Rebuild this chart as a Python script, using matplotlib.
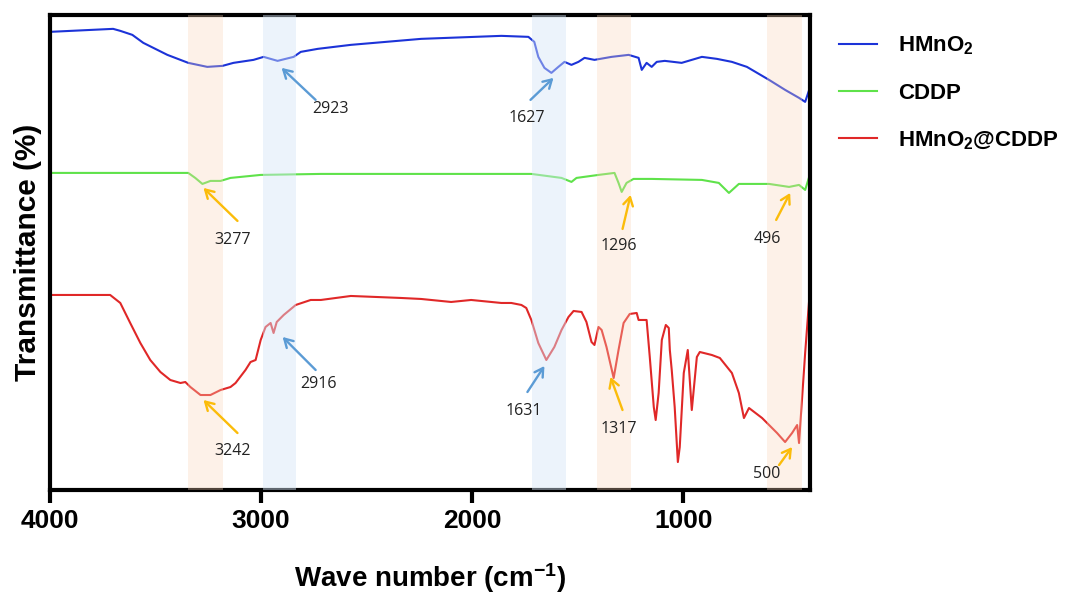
import matplotlib
matplotlib.use('Agg')
import matplotlib.pyplot as plt
import numpy as np

plt.rcParams['font.family'] = ['Liberation Sans', 'DejaVu Sans']
plt.rcParams['mathtext.fontset'] = 'custom'
plt.rcParams['mathtext.bf'] = 'Liberation Sans:bold'
plt.rcParams['mathtext.rm'] = 'Liberation Sans:bold'
plt.rcParams['mathtext.default'] = 'bf'

#------------------------------- data ---------------------------------------#
# wavenumber (cm-1) and transmittance (arbitrary, offset)
hmno2_wn = [4000, 3701, 3667, 3610, 3558, 3444, 3345, 3255, 3183, 3131, 3036,
            2988, 2955, 2922, 2846, 2812, 2732, 2575, 2242, 1862, 1734, 1706,
            1687, 1658, 1625, 1592, 1563, 1530, 1497, 1468, 1421, 1340, 1259,
            1212, 1197, 1174, 1150, 1126, 1088, 1008, 912, 841, 770, 699, 594,
            518, 452, 423, 404, 400]
hmno2_t = [458, 461, 459, 455, 447, 435, 427, 423, 424, 427, 430,
           433, 431, 429, 433, 438, 441, 445, 451, 454, 453, 448,
           433, 422, 417, 423, 428, 425, 428, 432, 430, 433, 435,
           432, 420, 427, 423, 428, 429, 427, 433, 431, 428, 423, 410,
           400, 392, 388, 400, 415]

cddp_wn = [4000, 3345, 3312, 3278, 3240, 3192, 3145, 3002, 2717, 2337, 1862,
           1720, 1577, 1530, 1506, 1402, 1326, 1307, 1292, 1269, 1236, 1150,
           912, 832, 784, 737, 594, 499, 452, 423, 404, 400]
cddp_t = [317, 317, 312, 306, 309, 309, 312, 315, 316, 316, 316,
          316, 312, 308, 312, 315, 317, 307, 298, 307, 311, 311,
          310, 307, 297, 306, 306, 303, 305, 300, 313, 317]

mix_wn = [4000, 3715, 3667, 3620, 3572, 3525, 3477, 3430, 3382, 3359, 3335,
          3287, 3240, 3192, 3145, 3121, 3074, 3050, 3026, 3002, 2979, 2955,
          2941, 2926, 2893, 2836, 2765, 2717, 2575, 2337, 2242, 2100, 2005,
          1862, 1815, 1767, 1744, 1720, 1687, 1649, 1611, 1577, 1544, 1520,
          1482, 1459, 1435, 1421, 1402, 1387, 1364, 1330, 1307, 1283, 1254,
          1221, 1212, 1174, 1159, 1140, 1131, 1117, 1102, 1083, 1069, 1064,
          1055, 1041, 1026, 1017, 998, 979, 960, 936, 922, 865, 827, 770,
          737, 713, 689, 627, 556, 518, 485, 461, 452, 423, 404, 400]
mix_t = [195, 195, 187, 167, 147, 130, 118, 110, 107, 108, 103,
         95, 95, 100, 103, 107, 120, 128, 130, 150, 163, 167,
         157, 168, 175, 185, 190, 190, 194, 192, 191, 188, 190,
         187, 187, 185, 182, 170, 147, 130, 143, 160, 173, 179,
         178, 168, 148, 145, 163, 160, 143, 112, 140, 167, 176,
         177, 170, 170, 133, 83, 70, 97, 150, 165, 162, 140,
         120, 83, 28, 43, 117, 140, 80, 133, 138, 135, 132, 117,
         97, 72, 82, 72, 57, 48, 57, 65, 47, 137, 190, 192]

labels = ['HMnO$_2$', 'CDDP', 'HMnO$_2$@CDDP']
colors = ['#1c33d8', '#5fe24a', '#e02828']

# highlighted bands (cm-1) and their colour kind
bands = [(3346, 3180, 'o'), (2991, 2834, 'b'), (1716, 1555, 'b'),
         (1408, 1247, 'o'), (602, 436, 'o')]

# peak labels
peak_labels = ['2923', '1627', '3277', '1296', '496',
               '3242', '2916', '1631', '1317', '500']
peak_kind = ['b', 'b', 'o', 'o', 'o', 'o', 'b', 'b', 'o', 'o']

#------------------------------- plot ---------------------------------------#
fig = plt.figure(figsize=(10.75, 5.94), dpi=100)
ax = fig.add_axes([0.0465, 0.175, 0.707, 0.8])

ax.plot(hmno2_wn, hmno2_t, color=colors[0], lw=1.5, label=labels[0])
ax.plot(cddp_wn, cddp_t, color=colors[1], lw=1.5, label=labels[1])
ax.plot(mix_wn, mix_t, color=colors[2], lw=1.5, label=labels[2])

band_col = {'o': ((0.98, 0.84, 0.72), 0.32), 'b': ((0.84, 0.90, 0.97), 0.45)}
for x0, x1, k in bands:
    c, a = band_col[k]
    ax.axvspan(x1, x0, color=c, alpha=a, lw=0, zorder=3)

# arrow heads (data) and tail / text offsets (pixels)
heads = [(2903, 422), (1615, 412), (3273, 302), (1250, 295), (494, 297),
         (3273, 90), (2898, 153), (1658, 124), (1345, 113), (485, 43)]
tails = [(34, -32), (-23, -22), (34, -33), (-8, -34), (-14, -27),
         (34, -33), (33, -33), (-17, -26), (12, -33), (-13, -18)]
texts = [(49, -41), (-27, -40), (29, -52), (-12, -51), (-23, -46),
         (29, -51), (36, -47), (-21, -45), (8, -52), (-25, -27)]
arrow_col = {'b': '#5b9bd5', 'o': '#fbbc0a'}
for lab, k, h, t, tx in zip(peak_labels, peak_kind, heads, tails, texts):
    ax.annotate('', xy=h, xytext=t, textcoords='offset pixels',
                arrowprops=dict(arrowstyle='->,head_length=0.6,head_width=0.35',
                                color=arrow_col[k], lw=1.7,
                                shrinkA=0, shrinkB=0), zorder=5)
    ax.annotate(lab, xy=h, xytext=tx, textcoords='offset pixels',
                ha='center', va='center', fontsize=11.5, color='#222222',
                family=['Open Sans', 'DejaVu Sans'], zorder=5)

ax.set_xlim(4000, 400)
ax.set_ylim(0, 475)
ax.set_xticks([4000, 3000, 2000, 1000])
ax.set_yticks([])
ax.tick_params(axis='x', length=9, width=3, labelsize=19, pad=5)
for lbl in ax.get_xticklabels():
    lbl.set_fontweight('bold')
for s in ax.spines.values():
    s.set_linewidth(3)

ax.set_xlabel('Wave number (cm$^{-1}$)', fontsize=20, fontweight='bold', labelpad=20)
ax.set_ylabel('Transmittance (%)', fontsize=21.5, fontweight='bold', labelpad=6)

leg = ax.legend(loc='upper left', bbox_to_anchor=(1.012, 1.0), frameon=False,
                prop={'size': 16, 'weight': 'bold'}, handlelength=1.7,
                labelspacing=1.15, handletextpad=0.95)

plt.savefig('out.png', dpi=100)
plt.close()
